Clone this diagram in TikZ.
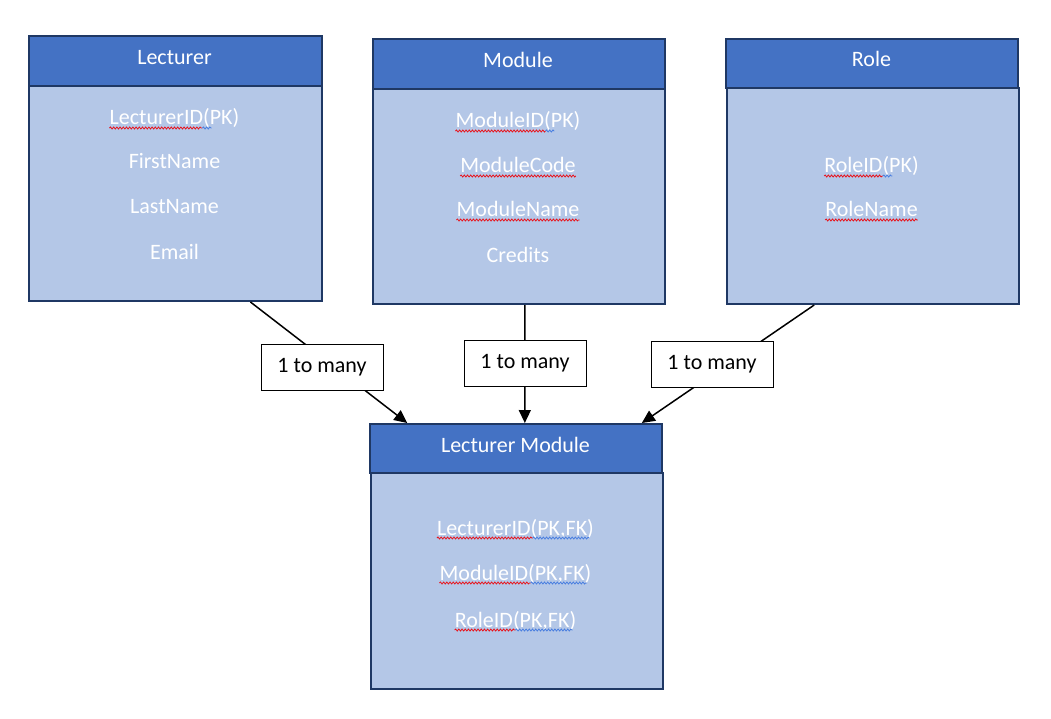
\documentclass[tikz,border=0pt]{standalone}
\usepackage{fontspec}
\setmainfont{Carlito}
\usetikzlibrary{arrows.meta,calc,decorations.pathmorphing}
\definecolor{hdrblue}{HTML}{4472C4}
\definecolor{bdyblue}{HTML}{B4C7E7}
\definecolor{bordr}{HTML}{1F3864}
\definecolor{sqred}{HTML}{E8141C}
\definecolor{sqblue}{HTML}{4A7FE0}
\tikzset{
  hdr/.style={draw=bordr,line width=2pt,fill=hdrblue,anchor=north west,inner sep=0pt},
  bdy/.style={draw=bordr,line width=2pt,fill=bdyblue,anchor=north west,inner sep=0pt},
  htext/.style={text=white,anchor=base,inner sep=0pt},
  rtext/.style={text=white,anchor=base,inner sep=0pt},
  lbl/.style={draw=black,fill=white,line width=1pt,minimum width=122pt,minimum height=46pt,inner sep=0pt,text=black},
  conn/.style={draw=black,line width=1.5pt,-{Triangle[length=13pt,width=12pt]}},
  squig/.style={line width=0.8pt,decorate,decoration={snake,segment length=3.2pt,amplitude=1pt}}
}
\newcommand{\sqg}[4]{\draw[squig,#4] ($(#1.base west)!#2!(#1.base east)+(0,3)$) -- ($(#1.base west)!#3!(#1.base east)+(0,3)$);}
\begin{document}
\begin{tikzpicture}[x=1pt,y=-1pt,font=\fontsize{22}{26}\selectfont]
\useasboundingbox (0,0) rectangle (1051,719);
% Lecturer
\node[bdy,minimum width=293pt,minimum height=215pt] (lecB) at (28,85) {};
\node[hdr,minimum width=293pt,minimum height=50pt] (lecH) at (28,35) {};
\node[htext] (lecT) at (174.5,65) {Lecturer};
\node[rtext] (l1) at (174.5,125) {LecturerID(PK)};
\node[rtext] (l2) at (174.5,169) {FirstName};
\node[rtext] (l3) at (174.5,214) {LastName};
\node[rtext] (l4) at (174.5,259) {Email};
% Module
\node[bdy,minimum width=292pt,minimum height=215pt] (modB) at (372,88) {};
\node[hdr,minimum width=292pt,minimum height=50pt] (modH) at (372,38) {};
\node[htext] (modT) at (518,68) {Module};
\node[rtext] (m1) at (518,128) {ModuleID(PK)};
\node[rtext] (m2) at (518,173) {ModuleCode};
\node[rtext] (m3) at (518,217) {ModuleName};
\node[rtext] (m4) at (518,262) {Credits};
% Role
\node[bdy,minimum width=292pt,minimum height=216pt] (rolB) at (726,87) {};
\node[hdr,minimum width=292pt,minimum height=49pt] (rolH) at (725,38) {};
\node[htext] (rolT) at (871.5,67) {Role};
\node[rtext] (r1) at (871.5,173) {RoleID(PK)};
\node[rtext] (r2) at (871.5,217) {RoleName};
% Lecturer Module
\node[bdy,minimum width=292pt,minimum height=216pt] (lmB) at (370,472) {};
\node[hdr,minimum width=292pt,minimum height=49pt] (lmH) at (369,423) {};
\node[htext] (lmT) at (515.5,452) {Lecturer Module};
\node[rtext] (k1) at (515.5,535) {LecturerID(PK,FK)};
\node[rtext] (k2) at (515.5,580) {ModuleID(PK,FK)};
\node[rtext] (k3) at (515.5,627) {RoleID(PK,FK)};
% squiggles
\sqg{l1}{0}{0.715}{sqred}\sqg{l1}{0.715}{0.785}{sqblue}
\sqg{m1}{0}{0.72}{sqred}\sqg{m1}{0.72}{0.79}{sqblue}
\sqg{m2}{0}{1}{sqred}
\sqg{m3}{0}{1}{sqred}
\sqg{r1}{0}{0.62}{sqred}\sqg{r1}{0.62}{0.72}{sqblue}
\sqg{r2}{0}{1}{sqred}
\sqg{k1}{0}{0.61}{sqred}\sqg{k1}{0.61}{0.97}{sqblue}
\sqg{k2}{0}{0.6}{sqred}\sqg{k2}{0.6}{0.97}{sqblue}
\sqg{k3}{0}{0.5}{sqred}\sqg{k3}{0.5}{0.97}{sqblue}
% connectors
\coordinate (lecS) at ($(lecB.south west)!0.754!(lecB.south east)$);
\coordinate (modS) at ($(modB.south west)!0.52!(modB.south east)$);
\coordinate (rolS) at ($(rolB.south west)!0.30!(rolB.south east)$);
\coordinate (lmA) at ($(lmH.north west)!0.13!(lmH.north east)$);
\coordinate (lmM) at ($(lmH.north west)!0.53!(lmH.north east)$);
\coordinate (lmC) at ($(lmH.north west)!0.928!(lmH.north east)$);
\draw[conn] (lecS) -- (lmA);
\draw[conn] (modS) -- (lmM);
\draw[conn] (rolS) -- (lmC);
\node[lbl] (c1) at (322,367) {1 to many};
\node[lbl] (c2) at (525,363) {1 to many};
\node[lbl] (c3) at (712,364) {1 to many};
\end{tikzpicture}
\end{document}
